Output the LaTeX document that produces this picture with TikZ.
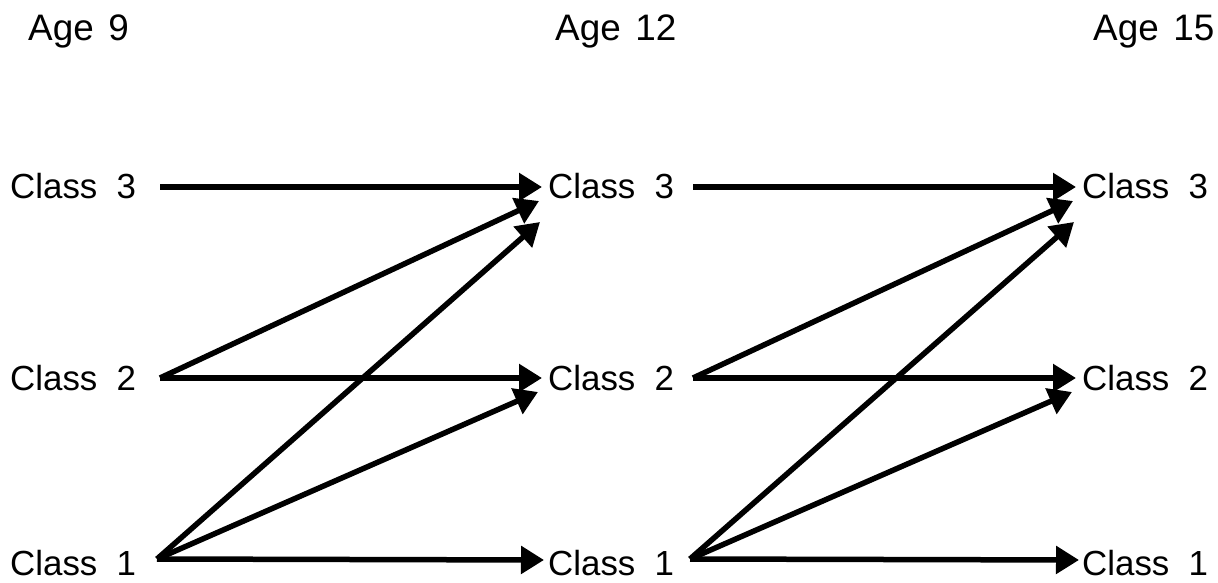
\documentclass[tikz,border=0pt]{standalone}
\usepackage{fontspec}
\setmainfont{Liberation Sans}
\usetikzlibrary{arrows.meta}
\begin{document}
\begin{tikzpicture}[x=1bp,y=-1bp,
  agelbl/.style={anchor=base west,inner sep=0pt,font=\fontsize{37}{40}\selectfont},
  classlbl/.style={anchor=base west,inner sep=0pt,font=\fontsize{35}{40}\selectfont},
  conn/.style={line width=5.5bp,-{Triangle[length=23bp,width=27bp]}}]
\useasboundingbox (0,0) rectangle (1218,583);
% age headings
\node[agelbl] (age9) at (28,41) {Age\hspace{0.4em}9};
\node[agelbl] (age12) at (555,41) {Age\hspace{0.4em}12};
\node[agelbl] (age15) at (1093,41) {Age\hspace{0.4em}15};
% class labels
\node[classlbl] (a3) at (10,199) {Class\hspace{0.55em}3};
\node[classlbl] (a2) at (10,390) {Class\hspace{0.55em}2};
\node[classlbl] (a1) at (10,575) {Class\hspace{0.55em}1};
\node[classlbl] (b3) at (548,199) {Class\hspace{0.55em}3};
\node[classlbl] (b2) at (548,390) {Class\hspace{0.55em}2};
\node[classlbl] (b1) at (548,575) {Class\hspace{0.55em}1};
\node[classlbl] (c3) at (1082,199) {Class\hspace{0.55em}3};
\node[classlbl] (c2) at (1082,390) {Class\hspace{0.55em}2};
\node[classlbl] (c1) at (1082,575) {Class\hspace{0.55em}1};
% connector end points
\coordinate (a3o) at (160,187);
\coordinate (a2o) at (160,378);
\coordinate (a1o) at (157,559);
\coordinate (b3i) at (542,187);
\coordinate (b3j) at (539,201);
\coordinate (b3k) at (540,222);
\coordinate (b2i) at (542,378);
\coordinate (b2j) at (538,392);
\coordinate (b1i) at (544,560);
\coordinate (b3o) at (693,187);
\coordinate (b2o) at (693,378);
\coordinate (b1o) at (690,559);
\coordinate (c3i) at (1076,187);
\coordinate (c3j) at (1073,201);
\coordinate (c3k) at (1074,222);
\coordinate (c2i) at (1076,378);
\coordinate (c2j) at (1072,392);
\coordinate (c1i) at (1079,560);
% left stage
\draw[conn] (a3o) -- (b3i);
\draw[conn] (a2o) -- (b3j);
\draw[conn] (a2o) -- (b2i);
\draw[conn] (a1o) -- (b3k);
\draw[conn] (a1o) -- (b2j);
\draw[conn] (a1o) -- (b1i);
% right stage
\draw[conn] (b3o) -- (c3i);
\draw[conn] (b2o) -- (c3j);
\draw[conn] (b2o) -- (c2i);
\draw[conn] (b1o) -- (c3k);
\draw[conn] (b1o) -- (c2j);
\draw[conn] (b1o) -- (c1i);
\end{tikzpicture}
\end{document}
